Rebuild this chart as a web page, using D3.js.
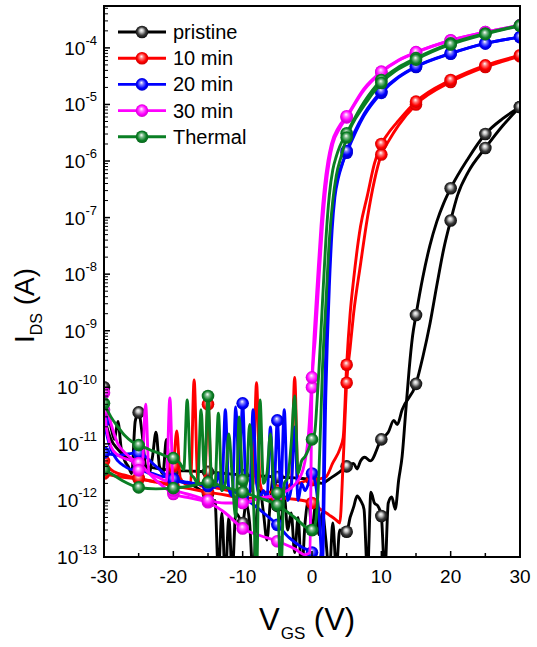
<!DOCTYPE html>
<html lang="en">
<head>
<meta charset="UTF-8" />
<title>Transfer curves I_DS - V_GS</title>
<script src="https://cdn.jsdelivr.net/npm/d3@7"></script>
<style>
  html, body { margin: 0; padding: 0; background: #fff; overflow: hidden; }
  svg { display: block; font-family: Arial, "Liberation Sans", sans-serif; }
</style>
</head>
<body>
<script>
// ----------------------------
// Data: [V_GS (V), I_DS (A)], two sweeps per device
// ----------------------------
const seriesNames = ["pristine", "10 min", "20 min", "30 min", "Thermal"];

const pristineA = [[-30, 1e-10], [-29.5, 4e-11], [-29, 2e-11], [-28.5, 1.2e-11], [-28, 2.5e-11], [-27.5, 8e-12], [-27, 5e-12],
  [-26.5, 4e-12], [-26, 3e-12], [-25.5, 2.5e-11], [-25, 3.6e-11], [-24.5, 1.5e-11], [-24, 4e-12], [-23.5, 3e-12], [-23, 6e-12],
  [-22.5, 1.6e-11], [-22, 4e-12], [-21.5, 3e-12], [-21, 1.2e-11], [-20.5, 3e-12], [-20, 2.5e-12], [-19, 2.2e-12], [-18, 2e-12],
  [-17, 1.8e-12], [-16, 1.5e-12], [-15, 1.3e-12], [-14.5, 8e-13], [-14, 1e-12], [-13.5, 5e-14], [-13, 6e-13], [-12.5, 4e-14],
  [-12, 5e-13], [-11.5, 5e-14], [-11, 6e-13], [-10.5, 5e-13], [-10, 4e-13], [-9.5, 9e-13], [-9, 4e-13], [-8.5, 5e-14], [-8, 5e-13],
  [-7.5, 1.5e-12], [-7, 6e-13], [-6.5, 2e-13], [-6, 1e-12], [-5.5, 3e-12], [-5, 8e-13], [-4.5, 4e-13], [-4, 1.2e-12], [-3.5, 3e-13],
  [-3, 6e-13], [-2.5, 1.2e-13], [-2, 5e-13], [-1.5, 5e-14], [-1, 4e-13], [-0.5, 1e-12], [0, 3e-13], [0.5, 8e-13], [1, 2.5e-13],
  [1.5, 6e-13], [2, 2e-13], [2.5, 5e-14], [3, 4e-13], [3.5, 6e-14], [4, 3e-13], [5, 2.8e-13], [5.5, 5e-13], [6, 7.6e-13],
  [6.5, 1.2e-12], [7, 1e-12], [7.5, 7e-13], [8, 5e-14], [8.5, 1.4e-12], [9, 9e-13], [9.5, 8e-13], [10, 5.3e-13], [10.5, 5e-14],
  [11, 9e-13], [11.5, 1.15e-12], [12, 7e-13], [12.5, 2.3e-12], [13, 6e-12], [13.5, 3.5e-11], [14, 2e-10], [14.5, 8e-10],
  [15, 1.9e-9], [16, 9e-9], [17, 3.2e-8], [18, 8.5e-8], [19, 1.8e-7], [20, 3.3e-7], [22.5, 1.1e-6], [25, 3e-6],
  [27.5, 5.6e-6], [30, 9e-6]];
const pristineB = [[-30, 3e-11], [-29, 1.2e-11], [-28, 8e-12], [-27, 6e-12], [-26, 5e-12], [-25, 4.5e-12], [-24, 4e-12],
  [-23, 3.8e-12], [-22, 3.6e-12], [-21, 3.5e-12], [-20, 3.4e-12], [-17.5, 3.3e-12], [-15, 3.2e-12], [-12.5, 3e-12], [-10, 2.8e-12],
  [-7.5, 2.7e-12], [-5, 2.6e-12], [-2.5, 2.5e-12], [0, 2.3e-12], [1.5, 2e-12], [2.5, 2.4e-12], [4, 3.2e-12], [5, 4e-12],
  [6, 4.5e-12], [6.5, 3.6e-12], [7, 5e-12], [7.6, 5.8e-12], [8.4, 5e-12], [10, 1.2e-11], [11, 1.6e-11], [11.8, 2.6e-11],
  [12.3, 2.2e-11], [13, 4e-11], [15, 1.15e-10], [16, 3.5e-10], [17, 1.3e-9], [18, 6.3e-9], [19, 2.8e-8], [20, 8.9e-8],
  [21, 2.5e-7], [22.5, 6.3e-7], [25, 1.7e-6], [27.5, 4.2e-6], [30, 9e-6]];

const min10A = [[-30, 3e-12], [-27.5, 2.6e-12], [-25, 2.4e-12], [-22.5, 2.1e-12], [-20, 1.8e-12], [-17.5, 1.6e-12],
  [-15, 1.4e-12], [-12.5, 1.25e-12], [-10, 1.1e-12], [-7.5, 1.1e-12], [-5, 1.1e-12], [-2.5, 1.05e-12], [0, 9e-13],
  [1.2, 7e-13], [2.5, 5.5e-13], [3.5, 4.5e-13], [4, 4e-13], [4.5, 5e-12], [5, 1.2e-10], [5.5, 5e-10], [6, 2e-9], [7, 1.5e-8],
  [8, 1e-7], [9, 4.5e-7], [10, 1.3e-6], [11, 2.2e-6], [12.5, 4.3e-6], [15, 1e-5], [20, 2.5e-5], [25, 4.6e-5], [30, 7.1e-5]];
const min10B = [[-30, 5e-12], [-29, 3.5e-12], [-28, 3e-12], [-27, 2.8e-12], [-26, 2.6e-12], [-25, 2.5e-12], [-24, 2.3e-12],
  [-23, 2.2e-12], [-22, 2.1e-12], [-21, 2e-12], [-20, 4e-12], [-19.5, 1.7e-11], [-19, 2.5e-12], [-18, 1.9e-12], [-17.5, 2e-12],
  [-17, 1.35e-10], [-16.5, 2.5e-12], [-16, 1.8e-12], [-15.5, 2e-12], [-15, 5e-11], [-14.5, 2e-12], [-14, 1.7e-12], [-13, 1.6e-12],
  [-12, 1.5e-12], [-11, 1.5e-12], [-10, 1.4e-12], [-9, 1.4e-12], [-8.5, 2e-12], [-8, 1.2e-10], [-7.5, 2e-12], [-7, 1.4e-12],
  [-6, 1.4e-12], [-5, 1.5e-12], [-4, 1.6e-12], [-3, 2e-12], [-2.5, 1.5e-10], [-2, 2e-12], [-1, 2.2e-12], [0, 2.3e-12],
  [1, 2.4e-12], [2, 2.6e-12], [3, 4.6e-12], [4, 8e-12], [4.5, 1.3e-11], [5, 2.5e-10], [5.5, 2e-9], [6, 8e-9], [7, 7e-8],
  [8, 2.5e-7], [9, 9e-7], [10, 2e-6], [11, 3.1e-6], [12.5, 5.2e-6], [15, 1.12e-5], [20, 2.7e-5], [25, 4.9e-5], [30, 7.4e-5]];

const min20A = [[-30, 7e-12], [-29, 6.5e-12], [-28, 6.3e-12], [-27, 6.5e-12], [-26, 6.8e-12], [-25, 6.9e-12], [-22.5, 4e-12],
  [-20, 2.3e-12], [-17.5, 2e-12], [-15, 1.9e-12], [-12.5, 1.7e-12], [-10, 1.15e-12], [-7.5, 6.8e-13], [-5, 3.7e-13],
  [-3.3, 2.2e-13], [-1.5, 1.5e-13], [0, 1.2e-13], [1, 9e-14], [1.5, 1.6e-13], [1.8, 5e-11], [2.3, 4e-9], [2.7, 5e-8],
  [3.1, 2e-7], [3.6, 4.5e-7], [4.2, 8e-7], [5, 1.4e-6], [7.5, 6.3e-6], [10, 1.6e-5], [12.5, 3e-5], [15, 4.6e-5], [20, 7.9e-5],
  [25, 1.2e-4], [30, 1.55e-4]];
const min20B = [[-30, 2.5e-11], [-29.5, 1.3e-11], [-29, 8e-12], [-28, 5e-12], [-27, 4e-12], [-26, 3.5e-12], [-25, 3.6e-12],
  [-24, 3.2e-12], [-23, 3e-12], [-22, 2.7e-12], [-21, 2.6e-12], [-20, 2.4e-12], [-19, 2.2e-12], [-18, 2.1e-12], [-17, 2e-12],
  [-16, 1.9e-12], [-15, 1.8e-12], [-14, 1.7e-12], [-13.5, 3e-12], [-13, 1.5e-12], [-12.5, 4e-11], [-12, 1.6e-12],
  [-11.5, 1.2e-12], [-11, 4.5e-11], [-10.5, 3e-12], [-10, 5.2e-11], [-9.5, 1.5e-12], [-9, 1.3e-12], [-8.5, 4e-11], [-8, 2e-12],
  [-7.5, 1.2e-12], [-7, 1.5e-12], [-6.5, 1e-12], [-6, 2e-11], [-5.5, 1.2e-12], [-5, 2.6e-11], [-4.5, 1.5e-12], [-4, 4e-11],
  [-3.5, 1e-12], [-3, 1.6e-12], [-2.5, 2e-11], [-2, 1e-12], [-1.5, 2e-12], [-1, 1.5e-12], [-0.5, 2e-12], [0, 3e-12],
  [0.5, 2e-12], [1, 6e-13], [1.5, 8e-14], [2, 8e-11], [2.5, 6e-9], [2.9, 6e-8], [3.3, 2.3e-7], [3.8, 5e-7], [4.4, 9e-7],
  [5, 1.5e-6], [7.5, 6.8e-6], [10, 1.7e-5], [12.5, 3.1e-5], [15, 4.7e-5], [20, 8e-5], [25, 1.2e-4], [30, 1.55e-4]];

const min30A = [[-30, 8e-11], [-29.5, 4e-11], [-29, 2.3e-11], [-28, 1e-11], [-27, 7e-12], [-26, 5.5e-12], [-25, 4.6e-12],
  [-24, 3.5e-12], [-23, 2.6e-12], [-22, 2e-12], [-21, 1.6e-12], [-20, 1.3e-12], [-17.5, 1.1e-12], [-15, 9.3e-13],
  [-12.5, 6e-13], [-10, 3.2e-13], [-7.5, 2.4e-13], [-5, 1.9e-13], [-2.5, 1.4e-13], [-1, 1.1e-13], [-0.3, 1.2e-13],
  [0, 1e-10], [0.5, 8e-10], [1, 8e-9], [1.5, 7e-8], [2, 3.5e-7], [2.5, 1e-6], [3, 2e-6], [4, 3.8e-6], [5, 5.9e-6],
  [7.5, 1.8e-5], [10, 3.7e-5], [12.5, 6e-5], [15, 8.3e-5], [20, 1.35e-4], [25, 1.9e-4], [30, 2.5e-4]];
const min30B = [[-30, 4e-11], [-29.5, 1.5e-11], [-29, 9e-12], [-28, 6.3e-12], [-27, 5.5e-12], [-26, 5e-12], [-25, 3.4e-12],
  [-24.5, 3.8e-12], [-24, 5e-11], [-23.5, 3e-12], [-23, 2.8e-12], [-22, 2.5e-12], [-21, 2.2e-12], [-20.5, 6.5e-11],
  [-20, 1.5e-12], [-19, 1.4e-12], [-18, 1.3e-12], [-17, 1.2e-12], [-15, 1e-12], [-12.5, 9e-13], [-10, 9e-13],
  [-7.5, 1.1e-12], [-5, 1.25e-12], [-2.5, 1.9e-12], [-1.3, 3.5e-12], [-0.5, 1.5e-11], [0, 1.5e-10], [0.3, 8e-10],
  [0.8, 8e-9], [1.3, 7e-8], [1.8, 3.5e-7], [2.3, 1e-6], [2.8, 2e-6], [3.8, 3.9e-6], [5, 6.2e-6], [7.5, 1.9e-5], [10, 3.8e-5],
  [12.5, 6.1e-5], [15, 8.4e-5], [20, 1.36e-4], [25, 1.9e-4], [30, 2.5e-4]];

const thermalA = [[-30, 5.2e-11], [-29, 3e-11], [-28, 2e-11], [-27, 1.4e-11], [-26, 1.1e-11], [-25, 9.5e-12], [-24, 8.5e-12],
  [-23, 7.5e-12], [-22, 6.8e-12], [-21, 6e-12], [-20, 5.6e-12], [-19, 4.5e-12], [-18.5, 3.5e-12], [-18, 6e-11],
  [-17.5, 3e-12], [-17, 2.5e-12], [-16.5, 2e-12], [-16, 4e-11], [-15.5, 3e-12], [-15, 7e-11], [-14.5, 2.5e-12],
  [-14, 1.8e-12], [-13.5, 3.5e-11], [-13, 1.5e-12], [-12.5, 2e-12], [-12, 1.5e-11], [-11.5, 2.5e-12], [-11, 5e-13],
  [-10.5, 3e-11], [-10, 2.3e-12], [-9.5, 1.8e-12], [-9, 2.2e-11], [-8.5, 1.5e-12], [-8, 5e-14], [-7.5, 6e-11], [-7, 2e-12],
  [-6.5, 3e-12], [-6, 1.5e-11], [-5.5, 2e-12], [-5, 1.35e-12], [-4.5, 5e-14], [-4, 2e-12], [-3.5, 2.5e-12], [-3, 1e-11],
  [-2.5, 7e-11], [-2, 3e-12], [-1.5, 5e-12], [-1, 6e-12], [-0.5, 8e-12], [0, 1.2e-11], [0.4, 1.6e-11], [0.7, 5e-11],
  [1, 2e-10], [1.5, 3e-9], [2, 4e-8], [2.5, 2.5e-7], [3, 7e-7], [3.5, 1.2e-6], [4, 1.8e-6], [5, 3.1e-6], [7.5, 1.1e-5],
  [10, 2.7e-5], [12.5, 4.6e-5], [15, 6.6e-5], [20, 1.2e-4], [25, 1.8e-4], [30, 2.5e-4]];
const thermalB = [[-30, 3.5e-12], [-29, 3e-12], [-27.5, 2.3e-12], [-25, 1.7e-12], [-22.5, 1.6e-12], [-20, 1.65e-12],
  [-17.5, 1.8e-12], [-15, 2.1e-12], [-12.5, 1.7e-12], [-10, 1.4e-12], [-7.5, 1.1e-12], [-5, 8.3e-13], [-2.5, 5e-13],
  [0, 3e-13], [0.5, 4e-13], [1, 3e-12], [1.5, 2e-10], [2, 3e-9], [2.5, 4e-8], [3, 2e-7], [3.5, 5.5e-7], [4.2, 1.2e-6],
  [5, 2.6e-6], [7.5, 9.5e-6], [10, 2.4e-5], [15, 6.2e-5], [20, 1.15e-4], [25, 1.75e-4], [30, 2.45e-4]];

const sweeps = [[pristineA, pristineB], [min10A, min10B], [min20A, min20B], [min30A, min30B], [thermalA, thermalB]];
const xTicks = [-30, -20, -10, 0, 10, 20, 30];
const yDecades = [-13, -12, -11, -10, -9, -8, -7, -6, -5, -4];

// ----------------------------
// Layout
// ----------------------------
const width = 537, height = 647;
const colors = ["#000000", "#ff0000", "#0000ff", "#ff00ff", "#0a7f24"];

const x = d3.scaleLinear().domain([-30, 30]).range([104, 520]);
const y = d3.scaleLog().domain([1e-13, 5.5e-4]).range([557, 6]);

const svg = d3.select("body").append("svg")
  .attr("width", width)
  .attr("height", height);

const defs = svg.append("defs");
defs.append("clipPath").attr("id", "plot-clip")
  .append("rect")
  .attr("x", x(-30)).attr("y", y(5.5e-4))
  .attr("width", x(30) - x(-30)).attr("height", y(1e-13) - y(5.5e-4));

// sphere-like marker fills
colors.forEach((c, i) => {
  const g = defs.append("radialGradient")
    .attr("id", "ball" + i)
    .attr("cx", "50%").attr("cy", "50%").attr("r", "55%")
    .attr("fx", "45%").attr("fy", "35%");
  const base = d3.color(c);
  const stops = i === 0
    ? [[0, "#ffffff"], [0.25, "#c8c8c8"], [0.6, "#3a3a3a"], [1, "#000000"]]
    : [[0, "#ffffff"], [0.3, d3.interpolateRgb("#ffffff", c)(0.55)], [0.65, c], [1, base.darker(0.8)]];
  stops.forEach(s => g.append("stop").attr("offset", s[0]).attr("stop-color", s[1]));
});

// ----------------------------
// Curves
// ----------------------------
const line = d3.line()
  .x(d => x(d[0]))
  .y(d => y(d[1]))
  .curve(d3.curveMonotoneX);

const plot = svg.append("g").attr("clip-path", "url(#plot-clip)");

sweeps.forEach((pair, i) => {
  const g = plot.append("g");
  pair.forEach(data => {
    g.append("path")
      .attr("d", line(data))
      .attr("fill", "none")
      .attr("stroke", colors[i])
      .attr("stroke-width", 2.9)
      .attr("stroke-linejoin", "round");
  });
  pair.forEach(data => {
    g.selectAll(null)
      .data(data.filter(d => d[0] % 5 === 0 && d[1] >= 1e-13))
      .join("circle")
      .attr("cx", d => x(d[0]))
      .attr("cy", d => y(d[1]))
      .attr("r", 6.3)
      .attr("fill", `url(#ball${i})`);
  });
});

// ----------------------------
// Axes (inward ticks)
// ----------------------------
const axes = svg.append("g");

// x ticks
d3.range(-30, 31, 5).forEach(v => {
  const major = v % 10 === 0;
  axes.append("line")
    .attr("x1", x(v)).attr("x2", x(v))
    .attr("y1", 557).attr("y2", 557 - (major ? 6 : 4))
    .attr("stroke", "#000").attr("stroke-width", 1.5);
});
axes.selectAll(null).data(xTicks).join("text")
  .attr("x", d => x(d))
  .attr("y", 583)
  .attr("text-anchor", "middle")
  .attr("font-size", 19)
  .text(d => d);

// y ticks
yDecades.forEach(p => {
  const v = Math.pow(10, p);
  axes.append("line")
    .attr("x1", 104).attr("x2", 110)
    .attr("y1", y(v)).attr("y2", y(v))
    .attr("stroke", "#000").attr("stroke-width", 1.5);
  for (let k = 2; k <= 9; k++) {
    const m = k * v;
    if (m > 5.5e-4) break;
    axes.append("line")
      .attr("x1", 104).attr("x2", 108)
      .attr("y1", y(m)).attr("y2", y(m))
      .attr("stroke", "#000").attr("stroke-width", 1);
  }
  const t = axes.append("text")
    .attr("x", 97)
    .attr("y", y(v) + 7)
    .attr("text-anchor", "end")
    .attr("font-size", 19);
  t.append("tspan").text("10");
  t.append("tspan").attr("font-size", 13).attr("dy", -10).text(p);
});

// frame
axes.append("rect")
  .attr("x", x(-30)).attr("y", y(5.5e-4))
  .attr("width", x(30) - x(-30)).attr("height", y(1e-13) - y(5.5e-4))
  .attr("fill", "none")
  .attr("stroke", "#000")
  .attr("stroke-width", 2);

// axis titles
const xt = svg.append("text").attr("x", 259).attr("y", 630).attr("font-size", 31);
xt.append("tspan").text("V");
xt.append("tspan").attr("font-size", 17).attr("dy", 9).attr("dx", 1).text("GS");
xt.append("tspan").attr("dy", -9).text(" (V)");

const yt = svg.append("text")
  .attr("transform", "translate(34,343) rotate(-90)")
  .attr("font-size", 28);
yt.append("tspan").text("I");
yt.append("tspan").attr("font-size", 16).attr("dy", 8).text("DS");
yt.append("tspan").attr("dy", -8).text(" (A)");

// ----------------------------
// Legend
// ----------------------------
const legend = svg.append("g");
seriesNames.forEach((name, i) => {
  const ly = 32 + i * 26.2;
  legend.append("line")
    .attr("x1", 118).attr("x2", 166)
    .attr("y1", ly).attr("y2", ly)
    .attr("stroke", colors[i]).attr("stroke-width", 2.9);
  legend.append("circle")
    .attr("cx", 142).attr("cy", ly).attr("r", 6.3)
    .attr("fill", `url(#ball${i})`);
  legend.append("text")
    .attr("x", 173).attr("y", ly + 7)
    .attr("font-size", 20)
    .text(name);
});
</script>
</body>
</html>
